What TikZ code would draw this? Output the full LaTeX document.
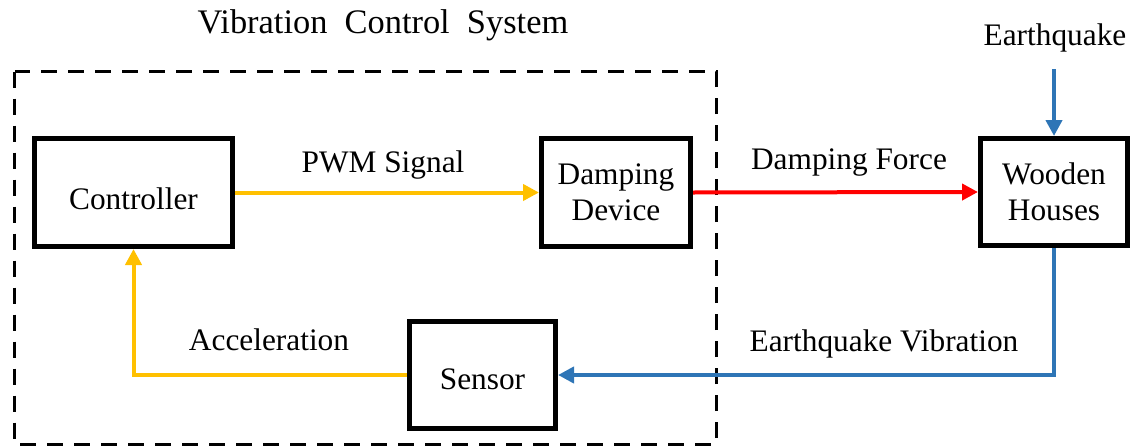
\documentclass[tikz,border=0pt]{standalone}
\usepackage{fontspec}
\setmainfont{Liberation Serif}
\usetikzlibrary{arrows.meta}
\definecolor{cyel}{HTML}{FFC000}
\definecolor{cred}{HTML}{FF0000}
\definecolor{cblue}{HTML}{2E75B6}
\def\u{0.75pt}
\begin{document}
\begin{tikzpicture}[x=0.75pt,y=-0.75pt,
  every node/.style={font=\fontsize{23.5}{27}\selectfont},
  blockbox/.style={draw=black,line width=5*\u,inner sep=0pt,fill=white},
  conn/.style={line width=4*\u,-{Triangle[length=16*\u,width=16*\u]}},
  lbl/.style={inner sep=0pt}]
\useasboundingbox (0,0) rectangle (1134,446);
% dashed system frame
\draw[line width=3*\u,dash pattern=on 16*\u off 11*\u] (14.5,71.5) rectangle (716,444);
\node[lbl,font=\fontsize{25.8}{30}\selectfont] (title) at (383,25) {Vibration\ \ Control\ \ System};
% blocks
\node[blockbox,minimum width=198*\u,minimum height=108*\u,text height=24.8pt,text depth=0pt] (ctrl) at (133.5,192.5) {Controller};
\node[blockbox,align=center,minimum width=149*\u,minimum height=108*\u] (damp) at (616,192.5) {Damping\\Device};
\node[blockbox,align=center,minimum width=147*\u,minimum height=107*\u] (wood) at (1054,192) {Wooden\\Houses};
\node[blockbox,minimum width=146*\u,minimum height=107*\u,text height=21pt,text depth=0pt] (sens) at (482.5,375) {Sensor};
% labels
\node[lbl] (eqlbl) at (1055,38) {Earthquake};
\coordinate (eqs) at (1054,69);
\node[lbl] (pwm) at (383,165) {PWM Signal};
\node[lbl] (dforce) at (849,163) {Damping Force};
\node[lbl] (acc) at (269,340) {Acceleration};
\node[lbl] (eqv) at (884,344) {Earthquake Vibration};
% connectors
\draw[conn,cyel] (ctrl.east) -- (damp.west);
\draw[conn,cred] (damp.east) -- (wood.west);
\draw[conn,cblue] (eqs) -- (wood.north);
\draw[conn,cblue] (wood.south) |- (sens.east);
\draw[conn,cyel] (sens.west) -| (ctrl.south);
\end{tikzpicture}
\end{document}
